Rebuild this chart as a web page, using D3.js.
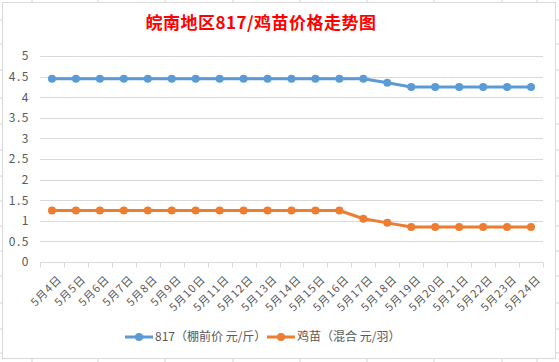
<!DOCTYPE html>
<html>
<head>
<meta charset="utf-8">
<script src="https://cdn.jsdelivr.net/npm/d3@7"></script>
<style>
    body { margin: 0; background: #fff; }
    svg { display: block; font-family: "Noto Sans CJK SC", "Noto Sans", sans-serif; }
</style>
</head>
<body>
<svg id="chart" width="559" height="362"></svg>
<script>
// data
var dates = ["5月4日","5月5日","5月6日","5月7日","5月8日","5月9日","5月10日","5月11日","5月12日","5月13日","5月14日",
    "5月15日","5月16日","5月17日","5月18日","5月19日","5月20日","5月21日","5月22日","5月23日","5月24日"];
var price817 = [4.45,4.45,4.45,4.45,4.45,4.45,4.45,4.45,4.45,4.45,4.45,4.45,4.45,4.45,4.35,4.25,4.25,4.25,4.25,4.25,4.25];
var priceChick = [1.25,1.25,1.25,1.25,1.25,1.25,1.25,1.25,1.25,1.25,1.25,1.25,1.25,1.05,0.95,0.85,0.85,0.85,0.85,0.85,0.85];
var seriesNames = ["817（棚前价 元/斤）","鸡苗（混合 元/羽）"];
var seriesColors = ["#5b9bd5","#ed7d31"];
var yTicks = [0,0.5,1,1.5,2,2.5,3,3.5,4,4.5,5];

var svg = d3.select('#chart');
var W = 559, H = 362;

// spreadsheet grid behind the chart
var sheetCols = [32,98,165,233,300,367,434,502,537];
var sheetRows = [20,44,70,98,124,150,176,201,226,251,276,303,329,353];
var sheet = svg.append('g');
sheetCols.forEach(function(x) {
    sheet.append('line').attr('x1',x).attr('x2',x).attr('y1',0).attr('y2',H)
        .style('stroke','#d4d4d4');
});
sheetRows.forEach(function(y) {
    sheet.append('line').attr('x1',0).attr('x2',W).attr('y1',y).attr('y2',y)
        .style('stroke','#d4d4d4');
});

// chart frame
svg.append('rect')
    .attr('x',2.5).attr('y',2.5).attr('width',553).attr('height',356)
    .style('fill','#fff').style('stroke','#d9d9d9');

// title
svg.append('text')
    .attr('x',261).attr('y',29)
    .attr('text-anchor','middle')
    .style('font-size','17px').style('font-weight','bold').style('fill','#ff0000')
    .style('letter-spacing','0.5px')
    .text('皖南地区817/鸡苗价格走势图');

var x = d3.scaleBand().domain(dates).range([40,543]);
var y = d3.scaleLinear().domain([0,5]).range([262,56]);

// gridlines
var grid = svg.append('g');
yTicks.forEach(function(t) {
    if (t === 0) return;
    grid.append('line')
        .attr('x1',40).attr('x2',543)
        .attr('y1',Math.round(y(t))+0.5).attr('y2',Math.round(y(t))+0.5)
        .style('stroke','#d9d9d9');
});

// y axis labels
var yAxis = svg.append('g').attr('transform','translate(30,0)')
    .call(d3.axisLeft(y).tickValues(yTicks).tickSize(0).tickPadding(0).tickFormat(d3.format('')));
yAxis.select('.domain').remove();
yAxis.selectAll('text')
    .style('font-size','12px').style('fill','#595959')
    .style('letter-spacing','1.5px')
    .style('font-family','"Noto Sans CJK SC", sans-serif');

// x axis
var xAxisG = svg.append('g').attr('transform','translate(0,' + (Math.round(y(0))+0.5) + ')');
xAxisG.append('line').attr('x1',40).attr('x2',543).style('stroke','#d9d9d9');
var bounds = dates.map(function(d) { return x(d); }).concat([x.range()[1]]);
bounds.forEach(function(b) {
    xAxisG.append('line').attr('x1',Math.round(b)+0.5).attr('x2',Math.round(b)+0.5)
        .attr('y1',0).attr('y2',5).style('stroke','#d9d9d9');
});
xAxisG.selectAll('text.xl').data(dates).enter().append('text')
    .attr('class','xl')
    .attr('transform',function(d) {
        return 'translate(' + (x(d) + x.bandwidth()/2 + 5) + ',12) rotate(-45)';
    })
    .attr('text-anchor','end')
    .attr('dy','0.7em')
    .style('font-size','11px').style('fill','#595959')
    .style('letter-spacing','1px')
    .text(function(d) { return d; });

// lines
var series = [price817, priceChick];
var line = d3.line()
    .x(function(d,i) { return x(dates[i]) + x.bandwidth()/2; })
    .y(function(d) { return y(d); });

series.forEach(function(vals, k) {
    var g = svg.append('g');
    g.append('path').datum(vals)
        .attr('d',line)
        .style('fill','none').style('stroke',seriesColors[k])
        .style('stroke-width',3).style('stroke-linejoin','round');
    g.selectAll('circle').data(vals).enter().append('circle')
        .attr('cx',function(d,i) { return x(dates[i]) + x.bandwidth()/2; })
        .attr('cy',function(d) { return y(d); })
        .attr('r',4)
        .style('fill',seriesColors[k]);
});

// legend
var legendX = [125, 267];
var legend = svg.append('g').attr('transform','translate(0,337)');
seriesNames.forEach(function(name, k) {
    var lx = legendX[k];
    legend.append('line').attr('x1',lx).attr('x2',lx+28).attr('y1',0).attr('y2',0)
        .style('stroke',seriesColors[k]).style('stroke-width',3);
    legend.append('circle').attr('cx',lx+14).attr('cy',0).attr('r',4).style('fill',seriesColors[k]);
    legend.append('text').attr('x',lx+30).attr('y',0).attr('dy','0.35em')
        .style('font-size','12px').style('fill','#595959')
        .text(name);
});
</script>
</body>
</html>
